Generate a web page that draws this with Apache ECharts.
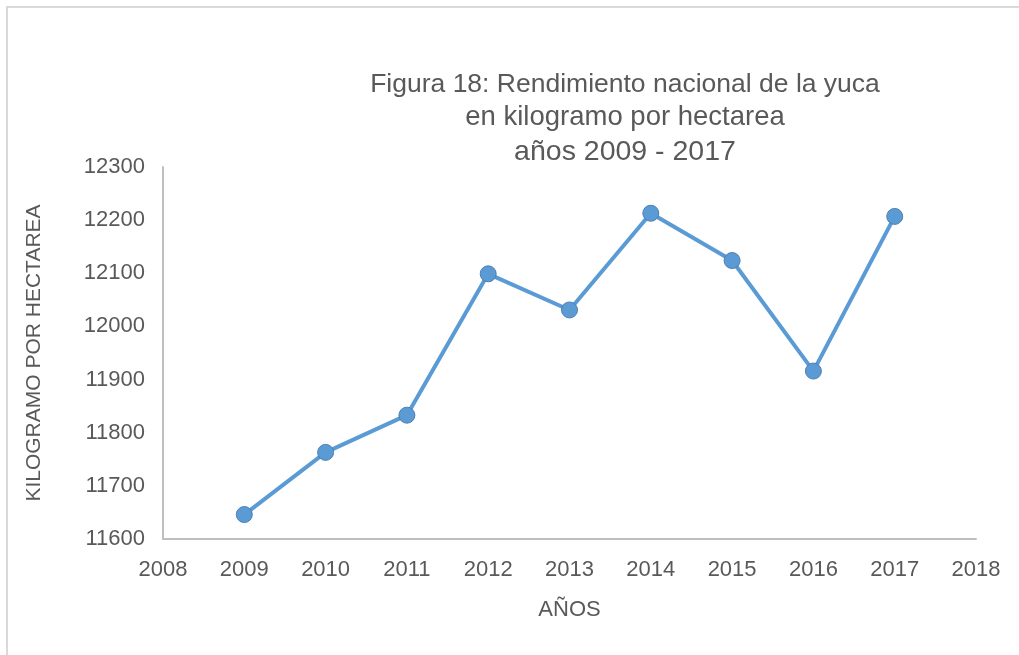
<!DOCTYPE html>
<html>
<head>
<meta charset="utf-8">
<script src="https://cdn.jsdelivr.net/npm/echarts@6/dist/echarts.min.js"></script>
<style>
  html, body { margin: 0; padding: 0; background: #fff; }
  #chart { width: 1019px; height: 655px; }
</style>
</head>
<body>
<div id="chart"></div>
<script>
// datos
var years = [2009, 2010, 2011, 2012, 2013, 2014, 2015, 2016, 2017];
var rendimiento = [11646, 11763, 11833, 12099, 12031, 12213, 12124, 11916, 12207];
var titleLines = ['Figura 18: Rendimiento nacional de la yuca', 'en kilogramo por hectarea', 'años 2009 - 2017'];

var FONT = 'Liberation Sans, Arial, sans-serif';

function lineChart(id) {
    var myChart = echarts.init(document.getElementById(id));
    var points = years.map(function (y, i) { return [y, rendimiento[i]]; });

    var option = {
        animation: false,
        title: {
            text: '{a|' + titleLines[0] + '}\n{b|' + titleLines[1] + '}\n{c|' + titleLines[2] + '}',
            left: 625,
            top: 68,
            padding: 0,
            textAlign: 'center',
            textStyle: {
                fontFamily: FONT,
                fontWeight: 'normal',
                color: '#595959',
                rich: {
                    a: { fontFamily: FONT, fontSize: 26.5, lineHeight: 33, color: '#595959' },
                    b: { fontFamily: FONT, fontSize: 27.5, lineHeight: 33, color: '#595959' },
                    c: { fontFamily: FONT, fontSize: 28.5, lineHeight: 36, color: '#595959' }
                }
            }
        },
        graphic: [
            {
                type: 'rect',
                shape: { x: 7, y: 7, width: 1040, height: 680 },
                style: { fill: 'none', stroke: '#d9d9d9', lineWidth: 2 },
                silent: true
            }
        ],
        grid: { left: 163, right: 43, top: 167, bottom: 116, containLabel: false },
        xAxis: {
            type: 'value',
            min: 2008,
            max: 2018,
            interval: 1,
            name: 'AÑOS',
            nameLocation: 'middle',
            nameGap: 60,
            nameTextStyle: { fontFamily: FONT, fontSize: 22, color: '#595959' },
            axisLine: { lineStyle: { color: '#bfbfbf', width: 2 } },
            axisTick: { show: false },
            splitLine: { show: false },
            axisLabel: {
                margin: 20,
                fontFamily: FONT,
                fontSize: 22,
                color: '#595959',
                formatter: function (v) { return String(v); }
            }
        },
        yAxis: {
            type: 'value',
            min: 11600,
            max: 12300,
            interval: 100,
            name: 'KILOGRAMO POR HECTAREA',
            nameLocation: 'middle',
            nameRotate: 90,
            nameGap: 118,
            nameTextStyle: { fontFamily: FONT, fontSize: 21, color: '#595959' },
            axisLine: { show: true, lineStyle: { color: '#bfbfbf', width: 2 } },
            axisTick: { show: false },
            splitLine: { show: false },
            axisLabel: {
                margin: 18,
                fontFamily: FONT,
                fontSize: 22,
                color: '#595959',
                formatter: function (v) { return String(v); }
            }
        },
        series: [
            {
                type: 'line',
                data: points,
                symbol: 'circle',
                symbolSize: 16,
                lineStyle: { color: '#5b9bd5', width: 4 },
                itemStyle: { color: '#5b9bd5', borderColor: '#4f7fae', borderWidth: 1 }
            }
        ]
    };

    myChart.setOption(option);
}

lineChart('chart');
</script>
</body>
</html>
